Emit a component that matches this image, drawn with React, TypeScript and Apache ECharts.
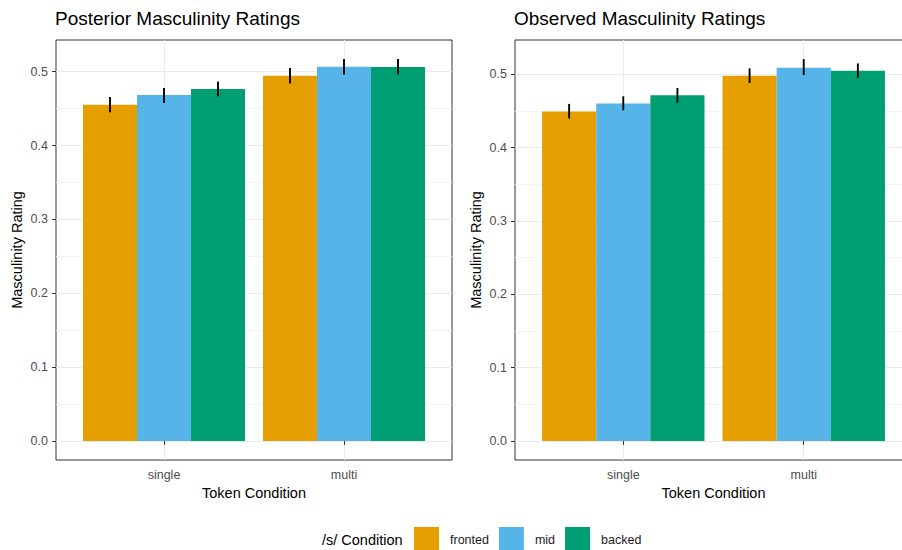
import React, { useEffect, useRef } from "react";
import * as echarts from "echarts";

const categories = ["single", "multi"];
const conditions = ["fronted", "mid", "backed"];
const colors = ["#E69F00", "#56B4E9", "#009E73"];
const panelTitles = ["Posterior Masculinity Ratings", "Observed Masculinity Ratings"];

// rows: fronted, mid, backed; columns: single, multi
const posteriorMean = [
  [0.4554, 0.4946],
  [0.4685, 0.5068],
  [0.4766, 0.5063],
];
const posteriorLower = [
  [0.445, 0.4842],
  [0.4577, 0.4964],
  [0.4666, 0.4964],
];
const posteriorUpper = [
  [0.4658, 0.505],
  [0.478, 0.5171],
  [0.4869, 0.5171],
];

const observedMean = [
  [0.449, 0.498],
  [0.4599, 0.5088],
  [0.4712, 0.5048],
];
const observedLower = [
  [0.4395, 0.488],
  [0.4508, 0.4988],
  [0.4612, 0.4947],
];
const observedUpper = [
  [0.4595, 0.5079],
  [0.4698, 0.5206],
  [0.4812, 0.5147],
];

const yTicks = [0, 0.1, 0.2, 0.3, 0.4, 0.5];
const yMinorTicks = [0.05, 0.15, 0.25, 0.35, 0.45, 0.55];

const FONT = "'Liberation Sans', Arial, sans-serif";

export default function App() {
  const ref = useRef<HTMLDivElement>(null);

  useEffect(() => {
    if (!ref.current) return;
    const chart = echarts.init(ref.current, null, { renderer: "svg" });

    const panels = [
      { mean: posteriorMean, lo: posteriorLower, hi: posteriorUpper },
      { mean: observedMean, lo: observedLower, hi: observedUpper },
    ];

    const grids = [
      { left: 56, top: 40, width: 396, height: 420 },
      { left: 515, top: 40, width: 397, height: 420 },
    ];

    const xAxes: any[] = [];
    const yAxes: any[] = [];
    const series: any[] = [];

    panels.forEach((p, pi) => {
      const maxVal = Math.max(...p.hi.flat());
      const pad = maxVal * 0.05;
      xAxes.push({
        type: "value",
        gridIndex: pi,
        min: 0.4,
        max: 2.6,
        name: "Token Condition",
        nameLocation: "middle",
        nameGap: 24,
        nameTextStyle: { fontFamily: FONT, fontSize: 14.5, color: "#000" },
        axisLine: { show: false },
        axisTick: {
          show: true,
          length: 4,
          customValues: [1, 2],
          lineStyle: { color: "#333333", width: 1 },
        },
        axisLabel: {
          customValues: [1, 2],
          formatter: (v: number) => categories[Math.round(v) - 1] ?? "",
          margin: 8,
          fontFamily: FONT,
          fontSize: 12.5,
          color: "#4D4D4D",
        },
        splitLine: {
          show: true,
          lineStyle: { color: "#EBEBEB", width: 1 },
        },
      });
      yAxes.push({
        type: "value",
        gridIndex: pi,
        min: -pad,
        max: maxVal + pad,
        name: "Masculinity Rating",
        nameLocation: "middle",
        nameGap: 32,
        nameTextStyle: { fontFamily: FONT, fontSize: 14.5, color: "#000" },
        axisLine: { show: false },
        axisTick: {
          show: true,
          length: 4,
          customValues: yTicks,
          lineStyle: { color: "#333333", width: 1 },
        },
        axisLabel: {
          customValues: yTicks,
          formatter: (v: number) => v.toFixed(1),
          margin: 8,
          fontFamily: FONT,
          fontSize: 12.5,
          color: "#4D4D4D",
        },
        splitLine: {
          show: true,
          lineStyle: { color: "#EBEBEB", width: 1 },
        },
      });

      // minor gridlines
      series.push({
        type: "line",
        name: "minor" + pi,
        xAxisIndex: pi,
        yAxisIndex: pi,
        data: [],
        z: 1,
        silent: true,
        markLine: {
          z: 1,
          silent: true,
          symbol: ["none", "none"],
          label: { show: false },
          animation: false,
          lineStyle: { color: "#F4F4F4", width: 1, type: "solid" },
          emphasis: { disabled: true },
          data: yMinorTicks.map((v) => ({ yAxis: v })),
        },
      });

      conditions.forEach((cond, k) => {
        const data = categories.map((_, ci) => [ci + 1, p.mean[k][ci], p.lo[k][ci], p.hi[k][ci]]);
        series.push({
          type: "custom",
          name: cond,
          xAxisIndex: pi,
          yAxisIndex: pi,
          z: 3,
          itemStyle: { color: colors[k] },
          data,
          renderItem: (params: any, api: any) => {
            const x = api.value(0) + (k - 1) * 0.3;
            const v = api.value(1);
            const lo = api.value(2);
            const hi = api.value(3);
            const p0 = api.coord([x - 0.15, 0]);
            const p1 = api.coord([x + 0.15, v]);
            const e0 = api.coord([x, lo]);
            const e1 = api.coord([x, hi]);
            return {
              type: "group",
              children: [
                {
                  type: "rect",
                  shape: {
                    x: p0[0],
                    y: p1[1],
                    width: p1[0] - p0[0],
                    height: p0[1] - p1[1],
                  },
                  style: { fill: colors[k] },
                },
                {
                  type: "line",
                  shape: { x1: e0[0], y1: e0[1], x2: e1[0], y2: e1[1] },
                  style: { stroke: "#000", lineWidth: 1.9 },
                },
              ],
            };
          },
        });
      });
    });

    chart.setOption({
      animation: false,
      backgroundColor: "#fff",
      title: panelTitles.map((t, i) => ({
        text: t,
        left: grids[i].left - 1,
        top: 9,
        padding: 0,
        textStyle: { fontFamily: FONT, fontSize: 19, fontWeight: "normal", color: "#000" },
      })),
      grid: grids.map((g) => ({
        ...g,
        show: true,
        backgroundColor: "#fff",
        borderColor: "#333333",
        borderWidth: 1,
      })),
      xAxis: xAxes,
      yAxis: yAxes,
      legend: {
        data: conditions,
        left: 414,
        top: 527,
        padding: 0,
        itemWidth: 25,
        itemHeight: 25,
        itemGap: 10,
        icon: "rect",
        selectedMode: false,
        textStyle: { fontFamily: FONT, fontSize: 12.5, color: "#1A1A1A", padding: [0, 0, 0, 6] },
      },
      graphic: [
        {
          type: "text",
          left: 322,
          top: 532,
          style: { text: "/s/ Condition", fontFamily: FONT, fontSize: 14.5, fill: "#000" },
        },
      ],
      series,
    });

    return () => chart.dispose();
  }, []);

  return (
    <div style={{ position: "absolute", left: 0, top: 0, width: 902, height: 550, overflow: "hidden" }}>
      <div ref={ref} style={{ width: 930, height: 550 }} />
    </div>
  );
}
